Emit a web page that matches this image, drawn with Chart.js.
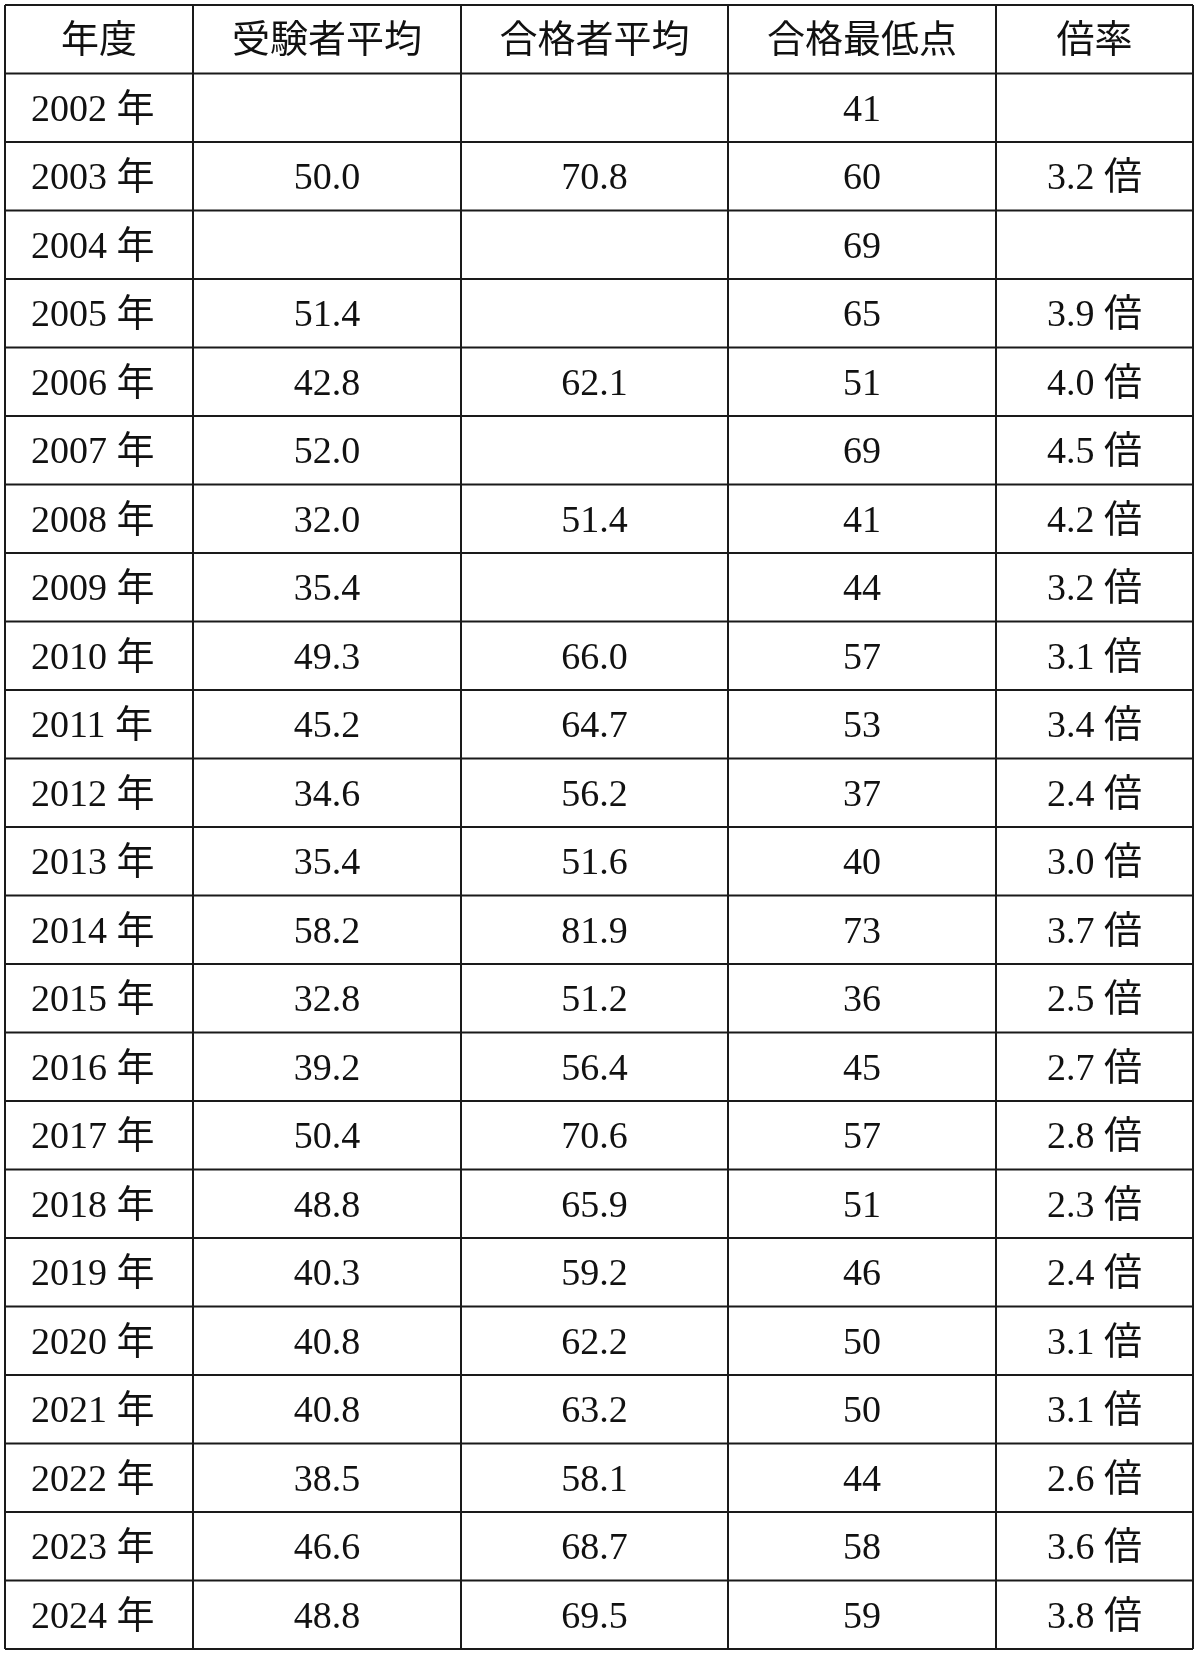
<!DOCTYPE html>
<html><head><meta charset="utf-8">
<script src="https://cdn.jsdelivr.net/npm/chart.js@4"></script>
<style>html,body{margin:0;padding:0;background:#fff}#wrap{width:1200px;height:1657px}</style>
</head><body><div id="wrap"><canvas id="c"></canvas></div>
<script>
const headers = ['年度','受験者平均','合格者平均','合格最低点','倍率'];
const years = ['2002','2003','2004','2005','2006','2007','2008','2009','2010','2011','2012','2013','2014','2015','2016','2017','2018','2019','2020','2021','2022','2023','2024'];
const examineeAvg = [null,'50.0',null,'51.4','42.8','52.0','32.0','35.4','49.3','45.2','34.6','35.4','58.2','32.8','39.2','50.4','48.8','40.3','40.8','40.8','38.5','46.6','48.8'];
const passerAvg = [null,'70.8',null,null,'62.1',null,'51.4',null,'66.0','64.7','56.2','51.6','81.9','51.2','56.4','70.6','65.9','59.2','62.2','63.2','58.1','68.7','69.5'];
const minPass = [41,60,69,65,51,69,41,44,57,53,37,40,73,36,45,57,51,46,50,50,44,58,59];
const ratio = [null,'3.2',null,'3.9','4.0','4.5','4.2','3.2','3.1','3.4','2.4','3.0','3.7','2.5','2.7','2.8','2.3','2.4','3.1','3.1','2.6','3.6','3.8'];
const colEdges = [0,188,456,723,991,1188];

const rows = years.map((y,i)=>[y+' 年', examineeAvg[i]??'', passerAvg[i]??'', minPass[i]==null?'':String(minPass[i]), ratio[i]?ratio[i]+' 倍':'']);

const tablePlugin = {
  id:'table',
  afterDraw(chart){
    const ctx = chart.ctx, xs = chart.scales.x, ys = chart.scales.y;
    const nRows = rows.length + 1;
    ctx.save();
    ctx.strokeStyle = '#1a1a1a'; ctx.lineWidth = 2;
    for(let r=0;r<=nRows;r++){
      const py = ys.getPixelForValue(r);
      ctx.beginPath(); ctx.moveTo(xs.getPixelForValue(colEdges[0]),py); ctx.lineTo(xs.getPixelForValue(colEdges[colEdges.length-1]),py); ctx.stroke();
    }
    colEdges.forEach(e=>{
      const px = xs.getPixelForValue(e);
      ctx.beginPath(); ctx.moveTo(px,ys.getPixelForValue(0)); ctx.lineTo(px,ys.getPixelForValue(nRows)); ctx.stroke();
    });
    ctx.fillStyle = '#111';
    ctx.textBaseline = 'middle';
    ctx.font = '38px "Liberation Serif", "Noto Sans CJK JP", serif';
    const all = [headers, ...rows];
    all.forEach((row,r)=>{
      const cy = ys.getPixelForValue(r+0.5) + 3;
      row.forEach((t,c)=>{
        if(!t) return;
        let cx;
        if(c===0 && r>0){ ctx.textAlign='left'; cx = xs.getPixelForValue(colEdges[0]) + 26; }
        else { ctx.textAlign='center'; cx = xs.getPixelForValue((colEdges[c]+colEdges[c+1])/2); }
        ctx.fillText(t,cx,cy);
      });
    });
    ctx.restore();
  }
};

new Chart(document.getElementById('c'),{
  type:'scatter',
  data:{datasets:[{data:[],pointRadius:0}]},
  options:{
    responsive:true, maintainAspectRatio:false, animation:false,
    layout:{padding:{left:5,right:7,top:5,bottom:8}},
    plugins:{legend:{display:false},tooltip:{enabled:false}},
    scales:{
      x:{type:'linear',min:colEdges[0],max:colEdges[colEdges.length-1],display:false},
      y:{type:'linear',min:0,max:rows.length+1,reverse:true,display:false}
    }
  },
  plugins:[tablePlugin]
});
</script></body></html>
